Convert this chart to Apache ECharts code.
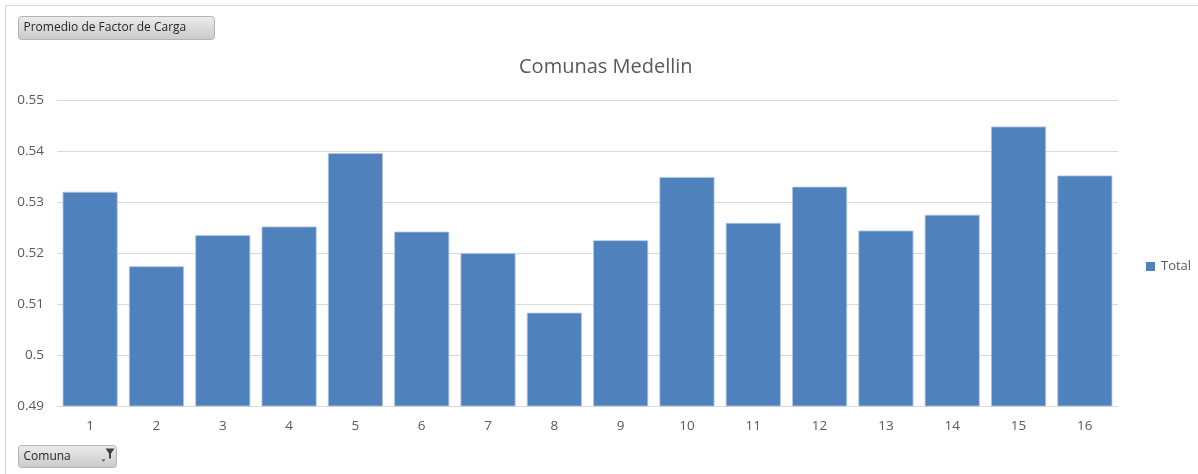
<!DOCTYPE html>
<html>
<head>
<meta charset="utf-8">
<script src="https://cdn.jsdelivr.net/npm/echarts@6/dist/echarts.min.js"></script>
<style>
  html, body { margin: 0; padding: 0; background: #fff; }
  #chart { width: 1198px; height: 474px; }
</style>
</head>
<body>
<div id="chart"></div>
<script>
// Average load factor per district (comuna) of Medellin
const comunas = ['1', '2', '3', '4', '5', '6', '7', '8', '9', '10', '11', '12', '13', '14', '15', '16'];
const total = [0.5320, 0.5174, 0.5235, 0.5252, 0.5396, 0.5242, 0.5200, 0.5083,
               0.5225, 0.5349, 0.5259, 0.5330, 0.5244, 0.5275, 0.5448, 0.5352];
const yTicks = { min: 0.49, max: 0.55, step: 0.01 };

const FONT = 'Open Sans';
const TEXT = '#595959';
const GRID = '#d9d9d9';

const chart = echarts.init(document.getElementById('chart'), null, { renderer: 'canvas' });

// Pivot-style field button (rounded, grey gradient)
function fieldButton(x, y, w, h, label, withFilter) {
  const items = [
    {
      type: 'rect',
      shape: { x: x, y: y, width: w, height: h, r: 3 },
      style: {
        fill: new echarts.graphic.LinearGradient(0, 0, 0, 1, [
          { offset: 0, color: '#ececec' },
          { offset: 1, color: '#c9c9c9' }
        ]),
        stroke: '#b4b4b4',
        lineWidth: 1
      }
    },
    {
      type: 'text',
      x: x + 5,
      y: y + h / 2,
      style: { text: label, font: '12px ' + FONT, fill: '#262626', verticalAlign: 'middle' }
    }
  ];
  if (withFilter) {
    // dropdown arrow + funnel icon
    items.push({
      type: 'polygon',
      shape: { points: [[x + w - 15, y + h / 2 + 3], [x + w - 11, y + h / 2 + 3], [x + w - 13, y + h / 2 + 5]] },
      style: { fill: '#404040' }
    });
    items.push({
      type: 'polygon',
      shape: { points: [[x + w - 11, y + 3], [x + w - 2, y + 3], [x + w - 5.5, y + 8], [x + w - 5.5, y + 13], [x + w - 7.5, y + 13], [x + w - 7.5, y + 8]] },
      style: { fill: '#404040' }
    });
  }
  return items;
}

const option = {
  animation: false,
  backgroundColor: '#ffffff',
  textStyle: { fontFamily: FONT },
  title: {
    text: 'Comunas Medellin',
    left: 514,
    top: 52,
    textStyle: { fontFamily: FONT, fontSize: 20, fontWeight: 'normal', color: TEXT }
  },
  legend: {
    orient: 'vertical',
    left: 1141,
    top: 255,
    itemWidth: 9,
    itemHeight: 9,
    itemGap: 5,
    icon: 'rect',
    itemStyle: { borderWidth: 0 },
    textStyle: { fontFamily: FONT, fontSize: 13, color: TEXT, padding: [0, 0, 0, 1] },
    data: ['Total']
  },
  grid: { left: 57, right: 80, top: 100, bottom: 68, containLabel: false },
  xAxis: {
    type: 'category',
    data: comunas,
    axisLine: { show: true, lineStyle: { color: GRID, width: 1 } },
    axisTick: { show: false },
    axisLabel: { color: TEXT, fontFamily: FONT, fontSize: 13.5, margin: 13 }
  },
  yAxis: {
    type: 'value',
    min: yTicks.min,
    max: yTicks.max,
    interval: yTicks.step,
    axisLine: { show: false },
    axisTick: { show: false },
    splitLine: { lineStyle: { color: GRID, width: 1 } },
    axisLabel: {
      color: TEXT,
      fontFamily: FONT,
      fontSize: 13.5,
      margin: 13,
      formatter: v => String(parseFloat(v.toFixed(2)))
    }
  },
  series: [{
    name: 'Total',
    type: 'bar',
    data: total,
    barCategoryGap: '17%',
    itemStyle: { color: '#4f81bd', borderColor: '#b3c7e2', borderWidth: 0.8 }
  }],
  graphic: [
    // chart area frame
    { type: 'line', shape: { x1: 5.5, y1: 5.5, x2: 1198, y2: 5.5 }, style: { stroke: '#d9d9d9', lineWidth: 1 } },
    { type: 'line', shape: { x1: 5.5, y1: 5.5, x2: 5.5, y2: 474 }, style: { stroke: '#d9d9d9', lineWidth: 1 } },
    ...fieldButton(18.5, 16.5, 196, 23, 'Promedio de Factor de Carga', false),
    ...fieldButton(18.5, 445.5, 98, 22, 'Comuna', true)
  ]
};

chart.setOption(option);
</script>
</body>
</html>
